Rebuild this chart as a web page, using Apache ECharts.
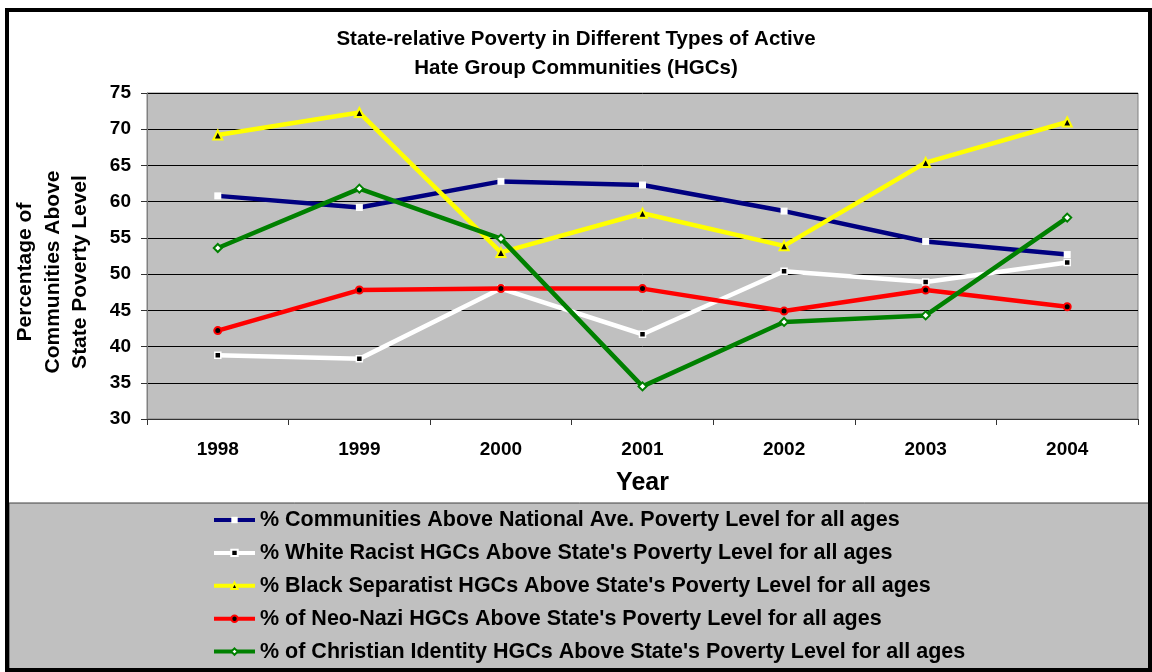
<!DOCTYPE html>
<html>
<head>
<meta charset="utf-8">
<script src="https://cdn.jsdelivr.net/npm/echarts@6/dist/echarts.min.js"></script>
<style>
  html, body { margin: 0; padding: 0; background: #ffffff; }
  #chart { width: 1152px; height: 672px; }
</style>
</head>
<body>
<div id="chart"></div>
<script>
// Years on the category axis
const years = ['1998', '1999', '2000', '2001', '2002', '2003', '2004'];

// Share of communities above the poverty level (%), one array per group
const nationalAve = [60.8, 59.2, 62.8, 62.3, 58.7, 54.5, 52.7];
const whiteRacist = [38.8, 38.3, 48.0, 41.7, 50.4, 48.9, 51.6];
const blackSeparatist = [69.2, 72.3, 53.0, 58.4, 53.9, 65.4, 71.0];
const neoNazi = [42.2, 47.8, 48.0, 48.0, 44.9, 47.8, 45.5];
const christianIdentity = [53.6, 61.8, 54.9, 34.5, 43.4, 44.3, 57.8];

// Series names as shown in the legend
const seriesNames = [
  "% Communities Above National Ave. Poverty Level for all ages",
  "% White Racist HGCs Above State's Poverty Level for all ages",
  "% Black Separatist HGCs Above State's Poverty Level for all ages",
  "% of Neo-Nazi HGCs Above State's Poverty Level for all ages",
  "% of Christian Identity HGCs Above State's Poverty Level for all ages"
];

// Value axis range
const yMin = 30, yMax = 75, yStep = 5;

const FONT = "'Liberation Sans', Arial, Helvetica, sans-serif";

function lineSeries(name, data, color, symbol, size, fill, border, borderWidth) {
  return {
    name: name,
    type: 'line',
    data: data,
    symbol: symbol,
    symbolSize: size,
    showSymbol: true,
    lineStyle: { color: color, width: 4.5 },
    itemStyle: { color: fill, borderColor: border, borderWidth: borderWidth },
    emphasis: { disabled: true },
    animation: false
  };
}

const chart = echarts.init(document.getElementById('chart'), null, { renderer: 'canvas' });

chart.setOption({
  backgroundColor: '#ffffff',
  animation: false,
  title: {
    text: 'State-relative Poverty in Different Types of Active\nHate Group Communities (HGCs)',
    left: 'center',
    top: 25,
    padding: 0,
    textStyle: {
      fontFamily: FONT, fontWeight: 'bold', fontSize: 20.5, lineHeight: 29, color: '#000'
    }
  },
  graphic: [
    {
      // legend panel
      type: 'rect', z: 0,
      shape: { x: 9, y: 503, width: 1141, height: 166 },
      style: { fill: '#c0c0c0', stroke: '#404040', lineWidth: 1 }
    },
    {
      // y-axis title
      type: 'text', z: 5,
      x: 53, y: 272, rotation: Math.PI / 2,
      style: {
        text: 'Percentage of\nCommunities Above\nState Poverty Level',
        font: 'bold 21px ' + FONT,
        lineHeight: 27.5,
        align: 'center', verticalAlign: 'middle', fill: '#000'
      }
    },
    {
      // outer frame
      type: 'rect', z: 100,
      shape: { x: 7, y: 10, width: 1143, height: 660 },
      style: { fill: 'none', stroke: '#000', lineWidth: 4 }
    }
  ],
  grid: {
    left: 147, right: 14, top: 93, bottom: 253,
    show: true,
    backgroundColor: '#c0c0c0',
    borderColor: '#808080',
    borderWidth: 1
  },
  legend: {
    orient: 'vertical',
    left: 212, top: 509,
    itemWidth: 41, itemHeight: 8,
    itemGap: 10.9,
    padding: 0,
    selectedMode: false,
    lineStyle: { width: 4 },
    textStyle: {
      fontFamily: FONT, fontWeight: 'bold', fontSize: 21.5, lineHeight: 21, color: '#000'
    },
    data: seriesNames
  },
  xAxis: {
    type: 'category',
    data: years,
    boundaryGap: true,
    name: 'Year',
    nameLocation: 'middle',
    nameGap: 52,
    nameTextStyle: { fontFamily: FONT, fontWeight: 'bold', fontSize: 25, color: '#000' },
    axisLine: { show: true, lineStyle: { color: '#333', width: 1 } },
    axisTick: { show: true, inside: false, length: 6, alignWithLabel: false, lineStyle: { color: '#333' } },
    axisLabel: { margin: 21, fontFamily: FONT, fontWeight: 'bold', fontSize: 19, color: '#000' },
    splitLine: { show: false }
  },
  yAxis: {
    type: 'value',
    min: yMin, max: yMax, interval: yStep,
    axisLine: { show: true, lineStyle: { color: '#808080', width: 1 } },
    axisTick: { show: true, inside: false, length: 6, lineStyle: { color: '#333' } },
    axisLabel: { margin: 16, fontFamily: FONT, fontWeight: 'bold', fontSize: 19, color: '#000' },
    splitLine: { show: true, lineStyle: { color: '#000', width: 1 } }
  },
  series: [
    lineSeries(seriesNames[0], nationalAve, '#000080', 'rect', 7, '#ffffff', '#ffffff', 0),
    lineSeries(seriesNames[1], whiteRacist, '#ffffff', 'rect', 6, '#000000', '#ffffff', 1.5),
    lineSeries(seriesNames[2], blackSeparatist, '#ffff00', 'triangle', 9, '#000000', '#ffff00', 2),
    lineSeries(seriesNames[3], neoNazi, '#ff0000', 'circle', 7, '#000000', '#ff0000', 2),
    lineSeries(seriesNames[4], christianIdentity, '#008000', 'diamond', 8, '#ffffff', '#008000', 2)
  ]
});
</script>
</body>
</html>
